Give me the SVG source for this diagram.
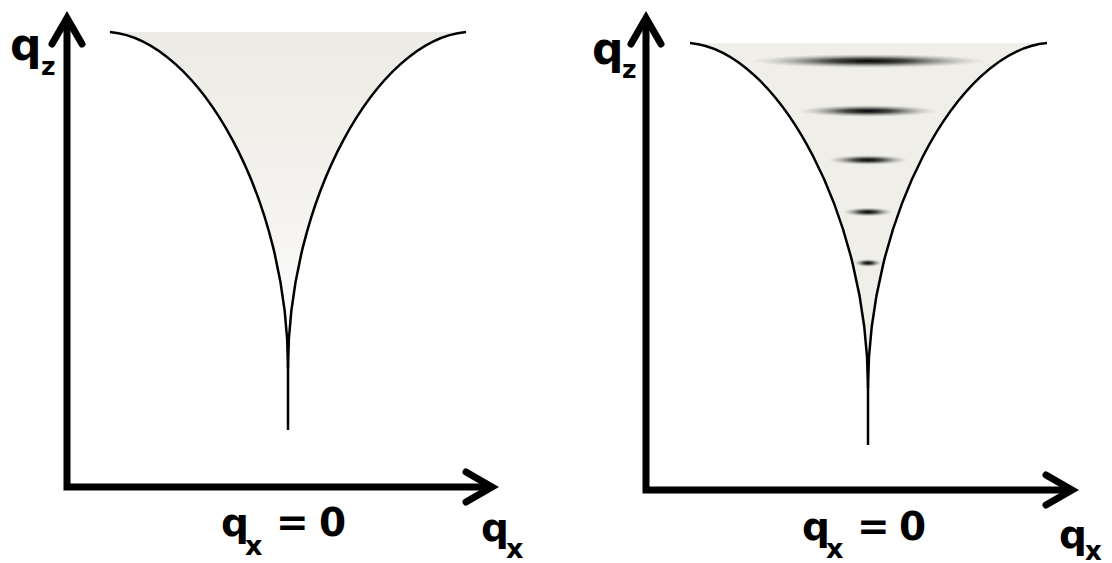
<svg xmlns="http://www.w3.org/2000/svg" width="1112" height="563" viewBox="0 0 1112 563">
  <style>
    .axis { fill: none; stroke: #000; stroke-width: 7; stroke-linejoin: miter; stroke-linecap: butt; }
    .head { fill: none; stroke: #000; stroke-width: 7; stroke-linejoin: miter; stroke-linecap: round; }
    .curve { fill: none; stroke: #000; stroke-width: 2.5; }
    .lbl { font-family: "DejaVu Sans", "Liberation Sans", sans-serif; font-weight: bold; fill: #000; }
  </style>
  <defs>
    <linearGradient id="fadeFill" x1="0" y1="32" x2="0" y2="360" gradientUnits="userSpaceOnUse">
      <stop offset="0" stop-color="#edebe5"/>
      <stop offset="0.5" stop-color="#f4f2ee"/>
      <stop offset="1" stop-color="#ffffff"/>
    </linearGradient>
    <radialGradient id="blob">
      <stop offset="0" stop-color="#000" stop-opacity="1"/>
      <stop offset="0.35" stop-color="#111" stop-opacity="0.75"/>
      <stop offset="0.7" stop-color="#444" stop-opacity="0.3"/>
      <stop offset="1" stop-color="#888" stop-opacity="0"/>
    </radialGradient>
  </defs>

  <g id="left-panel">
    <path d="M110,32 C200,40 288,201 288,368 C288,201 376,40 466,32 Z" fill="url(#fadeFill)"/>
    <path class="curve" d="M110,32 C200,40 288,201 288,368 L288,430"/>
    <path class="curve" d="M466,32 C376,40 288,201 288,368"/>
  </g>

  <g id="right-panel">
    <path d="M690,43 C780,51 868,220 868,388 C868,220 956,51 1047,43 Z" fill="#efeee8"/>
    <ellipse cx="869" cy="61" rx="117" ry="7" fill="url(#blob)"/>
    <ellipse cx="868" cy="111" rx="69" ry="6" fill="url(#blob)"/>
    <ellipse cx="868" cy="160" rx="40" ry="5" fill="url(#blob)"/>
    <ellipse cx="868" cy="212" rx="25" ry="4.5" fill="url(#blob)"/>
    <ellipse cx="868" cy="263" rx="14" ry="4" fill="url(#blob)"/>
    <path class="curve" d="M690,43 C780,51 868,220 868,388 L868,445"/>
    <path class="curve" d="M1047,43 C956,51 868,220 868,388"/>
  </g>

  <g id="axes">
    <path class="axis" d="M67,19 L67,487 L492,487"/>
    <polyline class="head" points="52,44 67,18 82,44"/>
    <polyline class="head" points="466,472 492,487 466,502"/>
    <path class="axis" d="M646,19 L646,490 L1072,490"/>
    <polyline class="head" points="631,44 646,18 661,44"/>
    <polyline class="head" points="1046,475 1072,490 1046,505"/>
  </g>

  <g id="labels">
    <text class="lbl" x="10" y="60" font-size="44">q<tspan x="41" y="75" font-size="25">z</tspan></text>
    <text class="lbl" x="592" y="64" font-size="44">q<tspan x="622" y="78" font-size="25">z</tspan></text>
    <text class="lbl" x="221" y="536" font-size="39">q<tspan x="245" y="555" font-size="27">x</tspan><tspan x="276" y="536">=</tspan><tspan x="319" y="536">0</tspan></text>
    <text class="lbl" x="802" y="540" font-size="39">q<tspan x="826" y="558" font-size="27">x</tspan><tspan x="857" y="540">=</tspan><tspan x="899" y="540">0</tspan></text>
    <text class="lbl" x="481" y="541" font-size="39">q<tspan x="506" y="558" font-size="27">x</tspan></text>
    <text class="lbl" x="1059" y="548" font-size="39">q<tspan x="1085" y="560" font-size="26">x</tspan></text>
  </g>
</svg>
